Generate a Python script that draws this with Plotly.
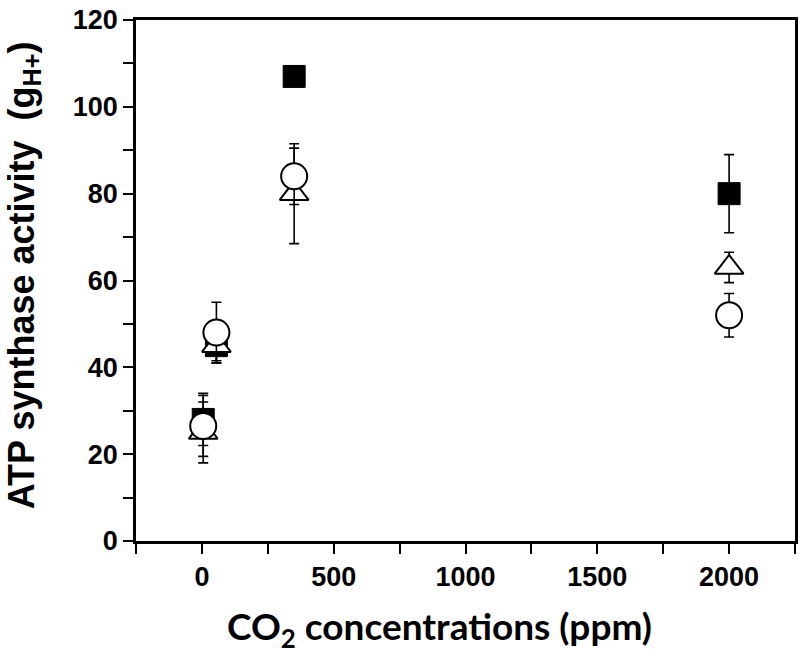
import plotly.graph_objects as go

# CO2 concentrations (ppm)
co2 = [5, 55, 350, 2000]

# ATP synthase activity (gH+) for the three series
square_y = [28, 45, 107, 80]
square_err = [6, 4, 2, 9]

triangle_y = [25, 45, 80, 63]
triangle_err = [7, 3.5, 11.5, 3.5]

circle_y = [26.5, 48, 84, 52]
circle_err = [7, 7, 6.5, 5]

x_ticks = [0, 500, 1000, 1500, 2000]
y_ticks = [0, 20, 40, 60, 80, 100, 120]

fig = go.Figure()

err_style = dict(type="data", visible=True, color="black", thickness=1.6, width=5)

fig.add_trace(go.Scatter(
    x=co2, y=square_y, mode="markers",
    marker=dict(symbol="square", size=22, color="black", line=dict(color="black", width=1)),
    error_y=dict(array=square_err, **err_style), showlegend=False))

fig.add_trace(go.Scatter(
    x=co2, y=triangle_y, mode="markers",
    marker=dict(symbol="triangle-up", size=25, color="white", line=dict(color="black", width=2)),
    error_y=dict(array=triangle_err, **err_style), showlegend=False))

fig.add_trace(go.Scatter(
    x=co2, y=circle_y, mode="markers",
    marker=dict(symbol="circle", size=26, color="white", line=dict(color="black", width=2)),
    error_y=dict(array=circle_err, **err_style), showlegend=False))

tick_font = dict(family="Liberation Sans, Arial, sans-serif", size=27, color="black")
xtick_font = dict(family="Liberation Sans Narrow, Arial Narrow, Liberation Sans, sans-serif", size=27, color="black")

fig.update_xaxes(
    range=[-250, 2250], tickvals=x_ticks, ticktext=[f"<b>{v}</b>" for v in x_ticks],
    showline=True, linecolor="black", linewidth=2.5, mirror=True,
    ticks="outside", ticklen=10, tickwidth=1.5, tickcolor="black",
    minor=dict(dtick=250, tick0=0, ticks="outside", ticklen=10, tickwidth=1.5, tickcolor="black"),
    showgrid=False, zeroline=False, tickfont=xtick_font, automargin=False)

fig.update_yaxes(
    range=[0, 120], tickvals=y_ticks, ticktext=[f"<b>{v}</b>" for v in y_ticks],
    showline=True, linecolor="black", linewidth=2.5, mirror=True,
    ticks="outside", ticklen=10, tickwidth=1.5, tickcolor="black",
    minor=dict(dtick=10, tick0=0, ticks="outside", ticklen=10, tickwidth=1.5, tickcolor="black"),
    showgrid=False, zeroline=False, tickfont=tick_font, automargin=False,
    ticklabeloverflow="allow")

fig.add_annotation(
    text="<b>ATP synthase activity &nbsp;(g<sub>H+</sub>)</b>",
    xref="paper", yref="paper", x=-0.170, y=0.51, textangle=-90,
    showarrow=False, xanchor="center", yanchor="middle",
    font=dict(family="Liberation Sans, Arial, sans-serif", size=36, color="black"))

fig.add_annotation(
    text="<b>CO<sub>2</sub> concentrations (ppm)</b>",
    xref="paper", yref="paper", x=0.461, y=-0.167,
    showarrow=False, xanchor="center", yanchor="middle",
    font=dict(family="Lato, Open Sans, sans-serif", size=37, color="black"))

fig.update_layout(
    width=800, height=659,
    margin=dict(l=136, r=5, t=20, b=118),
    plot_bgcolor="white", paper_bgcolor="white")

fig.write_html(
    "out.html",
    config={"displayModeBar": False},
    post_script="document.body.style.margin='0px';document.body.style.overflow='hidden';")
